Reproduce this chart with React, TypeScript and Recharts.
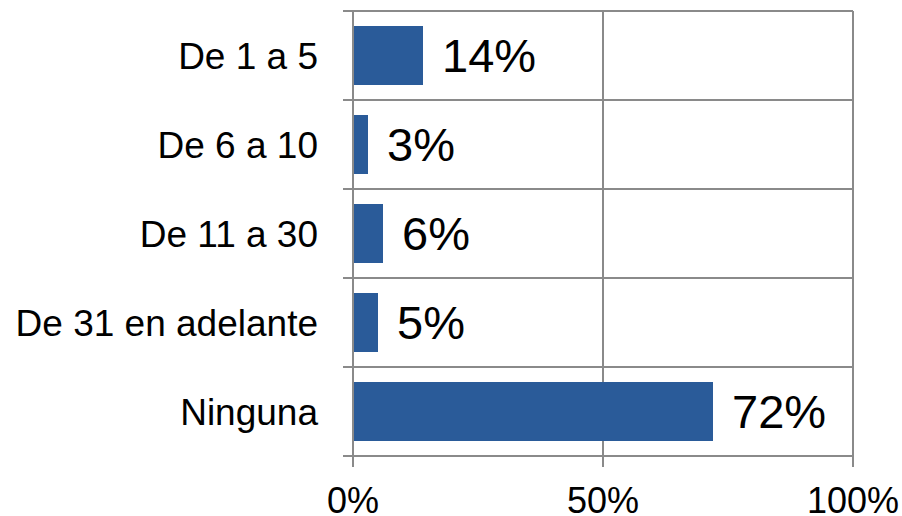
import React from "react";
import * as Recharts from "recharts";
import { BarChart, Bar, XAxis, YAxis, CartesianGrid, LabelList } from "recharts";

const categories = ["De 1 a 5", "De 6 a 10", "De 11 a 30", "De 31 en adelante", "Ninguna"];
const values = [14, 3, 6, 5, 72];
const xTicks = [0, 50, 100];

const data = categories.map((c, i) => ({ name: c, value: values[i] }));

const GRID = "#8a8a8a";
const FONT = "'Liberation Sans', Arial, sans-serif";
const CHART_W = 902;
const CHART_H = 516;

const R: any = Recharts;

const BandTicks = () => {
  const plot = R.usePlotArea ? R.usePlotArea() : null;
  const off = R.useOffset ? R.useOffset() : null;
  let x: number, y: number, h: number;
  if (plot) {
    x = plot.x;
    y = plot.y;
    h = plot.height;
  } else if (off) {
    x = off.left;
    y = off.top;
    h = CHART_H - off.top - off.bottom;
  } else {
    return null;
  }
  const n = categories.length;
  return (
    <g>
      {Array.from({ length: n + 1 }, (_, i) => {
        const yy = y + (i * h) / n;
        return <line key={i} x1={x - 10} x2={x} y1={yy} y2={yy} stroke={GRID} strokeWidth={2} />;
      })}
    </g>
  );
};

const bandEdgeGenerator = ({ offset }: any) => {
  const n = categories.length;
  return Array.from({ length: n + 1 }, (_, i) => offset.top + (i * offset.height) / n);
};

export default function App() {
  return (
    <div style={{ position: "absolute", left: 0, top: 0, background: "#fff" }}>
      <BarChart
        width={CHART_W}
        height={CHART_H}
        data={data}
        layout="vertical"
        margin={{ top: 11, right: 49, bottom: 0, left: 0 }}
        style={{ fontFamily: FONT }}
      >
        <CartesianGrid
          stroke={GRID}
          strokeWidth={2}
          horizontalCoordinatesGenerator={bandEdgeGenerator}
        />
        <XAxis
          type="number"
          domain={[0, 100]}
          ticks={xTicks}
          tickFormatter={(v: number) => `${v}%`}
          height={60}
          stroke={GRID}
          strokeWidth={2}
          tickSize={11}
          tickMargin={20}
          tick={{ fill: "#000", fontSize: 36, fontFamily: FONT }}
        />
        <YAxis
          type="category"
          dataKey="name"
          width={353}
          stroke={GRID}
          strokeWidth={2}
          tickLine={false}
          tickSize={10}
          tickMargin={25}
          tick={{ fill: "#000", fontSize: 37, fontFamily: FONT }}
        />
        <Bar dataKey="value" fill="#2A5B99" barSize={59} isAnimationActive={false}>
          <LabelList
            dataKey="value"
            position="right"
            offset={19}
            formatter={(v: number) => `${v}%`}
            style={{ fill: "#000", fontSize: 47, fontFamily: FONT }}
          />
        </Bar>
        <BandTicks />
      </BarChart>
    </div>
  );
}
